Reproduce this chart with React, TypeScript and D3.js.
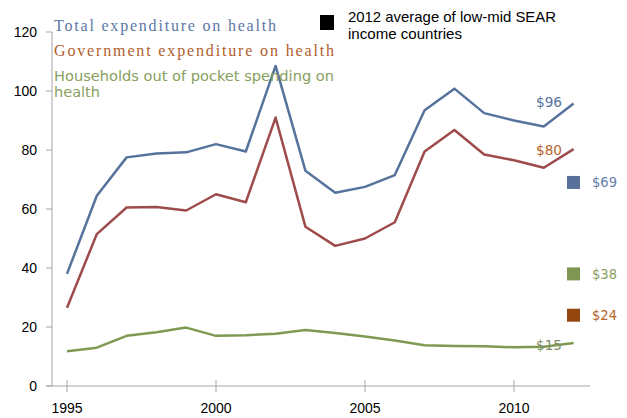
import React from "react";
import * as d3 from "d3";

const years = [1995,1996,1997,1998,1999,2000,2001,2002,2003,2004,2005,2006,2007,2008,2009,2010,2011,2012];
const totalExp = [38,64.5,77.5,78.8,79.2,82,79.5,108.5,73,65.5,67.5,71.5,93.5,100.8,92.5,90,88,95.8];
const govExp = [26.5,51.5,60.5,60.7,59.5,65,62.3,91,54,47.5,50,55.5,79.5,86.8,78.5,76.5,74,80.3];
const oopExp = [11.8,13,17,18.2,19.8,17,17.2,17.7,19,18,16.8,15.4,13.8,13.6,13.5,13.1,13.3,14.6];
const yTicks = [0,20,40,60,80,100,120];
const xTicks = [1995,2000,2005,2010];
const endLabels = ["$96","$80","$15"];
const avgValues = [69,38,24];
const avgLabels = ["$69","$38","$24"];

const W = 627, H = 418;

export default function App() {
  const x = d3.scaleLinear().domain([1995, 2012]).range([67, 573.6]);
  const y = d3.scaleLinear().domain([0, 120]).range([386, 32]);
  const line = d3.line<number>().x((_, i) => x(years[i])).y(d => y(d));
  const axisColor = "#a6a6a6";
  const series = [
    { data: totalExp, color: "#56739c" },
    { data: govExp, color: "#9e4b4b" },
    { data: oopExp, color: "#7e9a52" },
  ];
  const endColors = ["#56739c", "#b5652b", "#7e8f64"];
  const endDy = [-1, 1, 2];
  const avgSq = ["#58719b", "#7e9652", "#94460f"];
  const avgTxt = ["#6680a8", "#8aa062", "#b5652b"];
  return (
    <svg width={W} height={H} style={{ position: "absolute", left: 0, top: 0, background: "#fff" }}>
      <line x1={52} x2={52} y1={32} y2={386} stroke={axisColor} strokeWidth={1} />
      <line x1={46} x2={590} y1={386} y2={386} stroke={axisColor} strokeWidth={1} />
      {yTicks.map(t => (
        <g key={t}>
          <line x1={46} x2={52} y1={y(t)} y2={y(t)} stroke={axisColor} />
          <text x={37} y={y(t)} dy="0.35em" textAnchor="end" fontFamily="Liberation Sans, Arial, sans-serif" fontSize={14} fill="#000">{t}</text>
        </g>
      ))}
      {xTicks.map(t => (
        <g key={t}>
          <line x1={x(t)} x2={x(t)} y1={380} y2={392} stroke={axisColor} />
          <text x={x(t)} y={408} dy="0.35em" textAnchor="middle" fontFamily="Liberation Sans, Arial, sans-serif" fontSize={14} fill="#000">{t}</text>
        </g>
      ))}
      {series.map((s, i) => (
        <path key={i} d={line(s.data) || ""} fill="none" stroke={s.color} strokeWidth={2.5} strokeLinejoin="round" />
      ))}
      {series.map((s, i) => (
        <text key={"e" + i} x={536} y={y(s.data[s.data.length - 1]) + endDy[i]} dy="0.35em" fontFamily="DejaVu Sans Condensed, DejaVu Sans, sans-serif" fontSize={14} fill={endColors[i]} textLength={26} lengthAdjust="spacingAndGlyphs">{endLabels[i]}</text>
      ))}
      {avgValues.map((v, i) => (
        <g key={"a" + i}>
          <rect x={567} y={y(v) - 6.5} width={13} height={13} fill={avgSq[i]} />
          <text x={592} y={y(v)} dy="0.35em" fontFamily="DejaVu Sans Condensed, DejaVu Sans, sans-serif" fontSize={14} fill={avgTxt[i]} textLength={25} lengthAdjust="spacingAndGlyphs">{avgLabels[i]}</text>
        </g>
      ))}
      <text x={54} y={31} fontFamily="Liberation Serif, Times New Roman, serif" fontSize={16} fill="#5b78a3" textLength={222} lengthAdjust="spacing">Total expenditure on health</text>
      <text x={54} y={56} fontFamily="Liberation Serif, Times New Roman, serif" fontSize={16} fill="#b05e2c" textLength={280} lengthAdjust="spacing">Government expenditure on health</text>
      <text x={54} y={81} fontFamily="DejaVu Sans Condensed, DejaVu Sans, sans-serif" fontSize={14} fill="#87a05e" textLength={280} lengthAdjust="spacingAndGlyphs">Households out of pocket spending on</text>
      <text x={54} y={97} fontFamily="DejaVu Sans Condensed, DejaVu Sans, sans-serif" fontSize={14} fill="#87a05e" textLength={46} lengthAdjust="spacingAndGlyphs">health</text>
      <rect x={320} y={15} width={14} height={15} fill="#000" />
      <text x={348} y={22} fontFamily="Liberation Sans Narrow, Liberation Sans, Arial, sans-serif" fontSize={15} fill="#000" textLength={208} lengthAdjust="spacingAndGlyphs">2012 average of low-mid SEAR</text>
      <text x={348} y={39} fontFamily="Liberation Sans Narrow, Liberation Sans, Arial, sans-serif" fontSize={15} fill="#000" textLength={114} lengthAdjust="spacingAndGlyphs">income countries</text>
    </svg>
  );
}
